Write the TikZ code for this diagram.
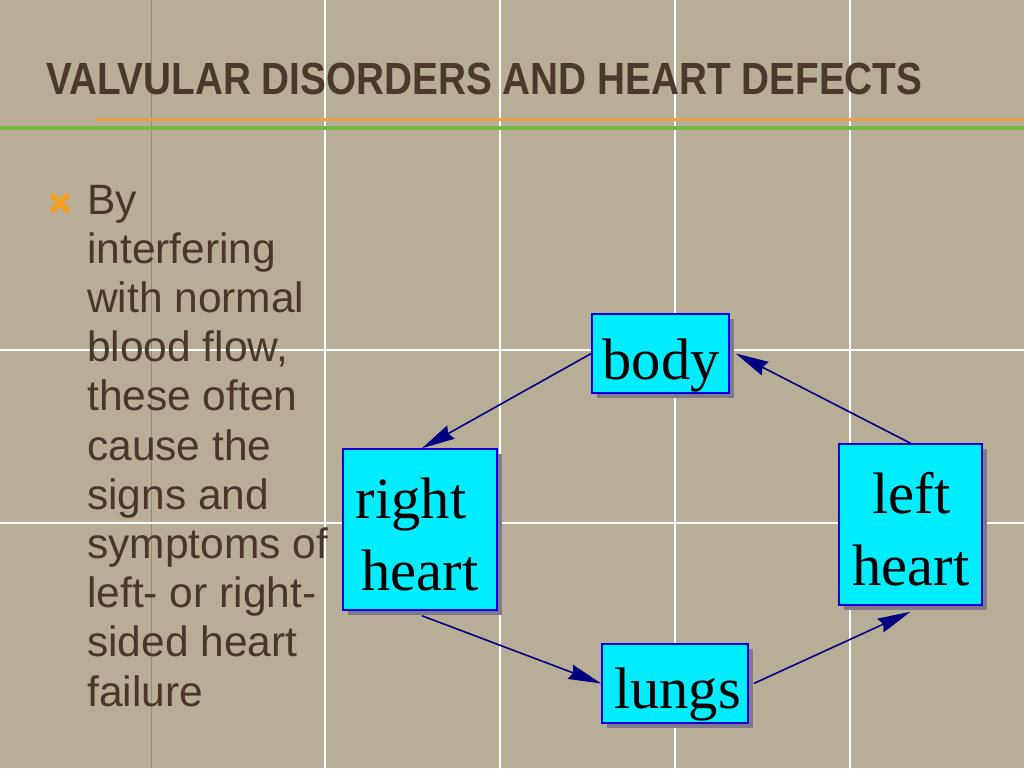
\documentclass[tikz,border=0pt]{standalone}
\usepackage{fontspec}
\setmainfont{Liberation Serif}
\newfontfamily\sansf{Liberation Sans}
\usetikzlibrary{arrows.meta,shadows}
\definecolor{bgcol}{RGB}{184,173,151}
\definecolor{titlecol}{RGB}{74,58,44}
\definecolor{textcol}{RGB}{72,56,42}
\definecolor{boxfill}{RGB}{0,236,255}
\definecolor{boxline}{RGB}{0,0,220}
\definecolor{arrcol}{RGB}{0,0,128}
\definecolor{shadowcol}{RGB}{130,120,140}
\definecolor{greenline}{RGB}{122,182,72}
\definecolor{orangeline}{RGB}{234,162,72}
\definecolor{bulletcol}{RGB}{245,160,35}
\definecolor{darkgrid}{RGB}{150,138,118}
\tikzset{
  boxst/.style={draw=boxline, line width=1.5pt, fill=boxfill, inner sep=0pt,
    drop shadow={shadow xshift=5pt, shadow yshift=-5pt, fill=shadowcol, opacity=1}},
  boxtext/.style={font=\fontsize{58.5}{72}\selectfont, text=black, inner sep=0pt, anchor=base},
  bodytext/.style={font=\sansf\fontsize{42.5}{49}\selectfont, text=textcol, inner sep=0pt, anchor=base west},
  arr/.style={draw=arrcol, line width=1.6pt, -{Stealth[length=33pt,width=15pt,inset=3pt]}},
  gridline/.style={draw=white, line width=1.5pt}
}
\begin{document}
\begin{tikzpicture}[x=1pt,y=-1pt]
% background
\fill[bgcol] (0,0) rectangle (1024,768);
\useasboundingbox (0,0) rectangle (1024,768);
% grid lines
\draw[darkgrid, line width=1pt] (151,0) -- (151,768);
\foreach \gx in {325,500,675,850} \draw[gridline] (\gx,0) -- (\gx,768);
\foreach \gy in {350,523} \draw[gridline] (0,\gy) -- (1024,\gy);
% title
\node[anchor=base west, inner sep=0pt, text=titlecol] (title) at (46,94)
  {\resizebox{876pt}{31.5pt}{\sansf\bfseries VALVULAR DISORDERS AND HEART DEFECTS}};
% rules
\draw[orangeline, line width=3pt] (95,119) -- (1024,119);
\draw[greenline, line width=4pt] (0,128) -- (1024,128);
% bullet
\draw[bulletcol, line width=5.5pt] (51.5,194.5) -- (68.5,211.5) (68.5,194.5) -- (51.5,211.5);
% body text
\foreach \t [count=\i] in {By, interfering, with normal, {blood flow,}, these often, cause the, signs and, symptoms of, left- or right-, sided heart, failure}
  \node[bodytext] (line\i) at (87,{214+(\i-1)*49.2}) {\t};
% boxes
\node[boxst, minimum width=137pt, minimum height=79pt] (body) at (660.5,353.5) {};
\node[boxst, minimum width=154pt, minimum height=161pt] (rheart) at (420,529.5) {};
\node[boxst, minimum width=143pt, minimum height=161pt] (lheart) at (910.5,524.5) {};
\node[boxst, minimum width=146pt, minimum height=79pt] (lungs) at (675,683.5) {};
% box texts
\node[boxtext] (bodyt) at (661,379) {body};
\node[boxtext] (rheartta) at (411,518) {right};
\node[boxtext] (rhearttb) at (420,590) {heart};
\node[boxtext] (lheartta) at (911.5,513) {left};
\node[boxtext] (lhearttb) at (911,585) {heart};
\node[boxtext] (lungst) at (677.5,708) {lungs};
% arrows
\draw[arr] (body.west) -- ([xshift=2pt]rheart.north);
\draw[arr] (lheart.north) -- ([xshift=6pt]body.east);
\draw[arr] ([xshift=2pt,yshift=-5pt]rheart.south) -- (lungs.west);
\draw[arr] ([xshift=5pt]lungs.east) -- ([yshift=-6pt]lheart.south);
\end{tikzpicture}
\end{document}
